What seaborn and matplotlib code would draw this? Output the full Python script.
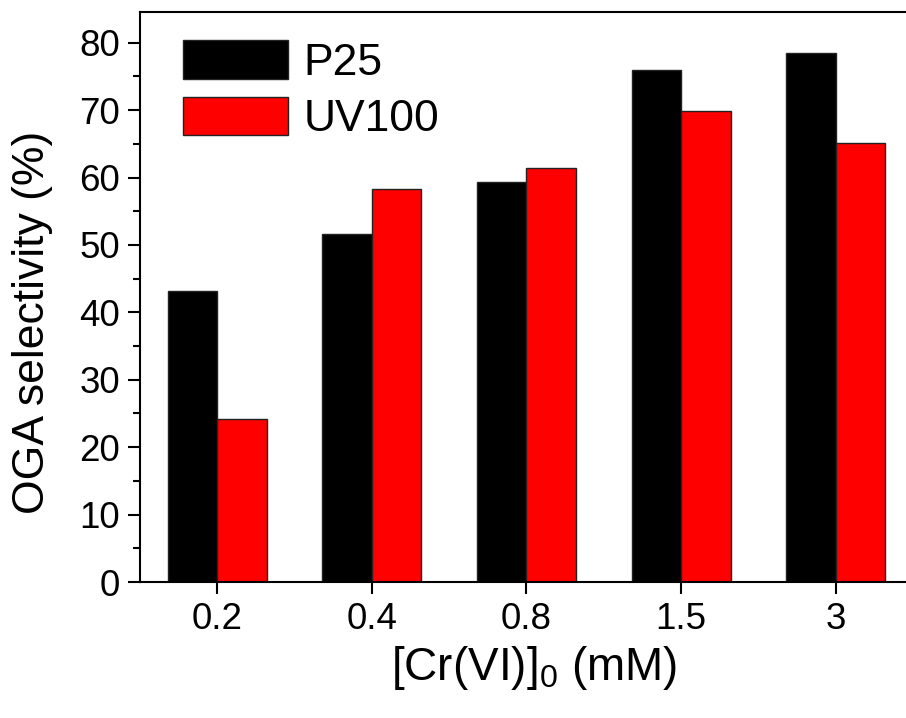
import numpy as np
import matplotlib
matplotlib.use("Agg")
import matplotlib.pyplot as plt
import pandas as pd
import seaborn as sns
from matplotlib.ticker import MultipleLocator

# Chart data
concentrations = ["0.2", "0.4", "0.8", "1.5", "3"]
p25 = [43.1, 51.6, 59.3, 75.9, 78.4]
uv100 = [24.2, 58.3, 61.4, 69.8, 65.1]
series_names = ["P25", "UV100"]
y_ticks = [0, 10, 20, 30, 40, 50, 60, 70, 80]


def make_frame():
    rows = []
    for name, vals in zip(series_names, [p25, uv100]):
        for c, v in zip(concentrations, vals):
            rows.append({"conc": c, "sel": v, "sample": name})
    return pd.DataFrame(rows)


def plot_data():
    sns.set_style("ticks")
    plt.rcParams["font.family"] = ["Liberation Sans", "DejaVu Sans"]
    plt.rcParams["text.color"] = "black"
    plt.rcParams["axes.labelcolor"] = "black"
    plt.rcParams["xtick.color"] = "black"
    plt.rcParams["ytick.color"] = "black"
    plt.rcParams["mathtext.fontset"] = "custom"
    plt.rcParams["mathtext.rm"] = "Liberation Sans"

    fig = plt.figure(figsize=(9.06, 7.18), dpi=100)
    ax = fig.add_axes([0.1545, 0.1894, 0.8532, 0.7943])

    sns.barplot(
        data=make_frame(), x="conc", y="sel", hue="sample",
        order=concentrations, hue_order=series_names,
        palette=["#000000", "#ff0000"], width=0.64,
        edgecolor="#222222", linewidth=1.0, saturation=1,
        ax=ax,
    )

    ax.set_xlim(-0.5, 4.5)
    ax.set_ylim(0, 84.6)
    ax.set_yticks(y_ticks)
    ax.yaxis.set_minor_locator(MultipleLocator(5))

    for side in ["left", "right", "top", "bottom"]:
        ax.spines[side].set_visible(True)
        ax.spines[side].set_linewidth(1.5)
        ax.spines[side].set_color("black")

    ax.tick_params(axis="both", which="major", direction="out", length=8.5,
                   width=1.5, labelsize=26.5, colors="black")
    ax.tick_params(axis="y", which="minor", direction="out", length=5, width=1.5)
    ax.tick_params(axis="x", which="major", pad=6)
    ax.tick_params(axis="y", which="major", pad=6)

    ax.set_xlabel(r"[Cr(VI)]$_\mathregular{0}$ (mM)", fontsize=33)
    ax.set_ylabel("OGA selectivity (%)", fontsize=32)
    ax.yaxis.set_label_coords(-0.112, 0.455)
    ax.xaxis.set_label_coords(0.51, -0.108)

    handles, labels = ax.get_legend_handles_labels()
    ax.legend(handles, labels, loc="upper left", bbox_to_anchor=(0.0556, 0.95),
              frameon=False, fontsize=32, handlelength=2.36, handleheight=0.95,
              handletextpad=0.36, labelspacing=0.3, borderpad=0, borderaxespad=0)

    plt.savefig("out.png", dpi=100)


if __name__ == "__main__":
    plot_data()
